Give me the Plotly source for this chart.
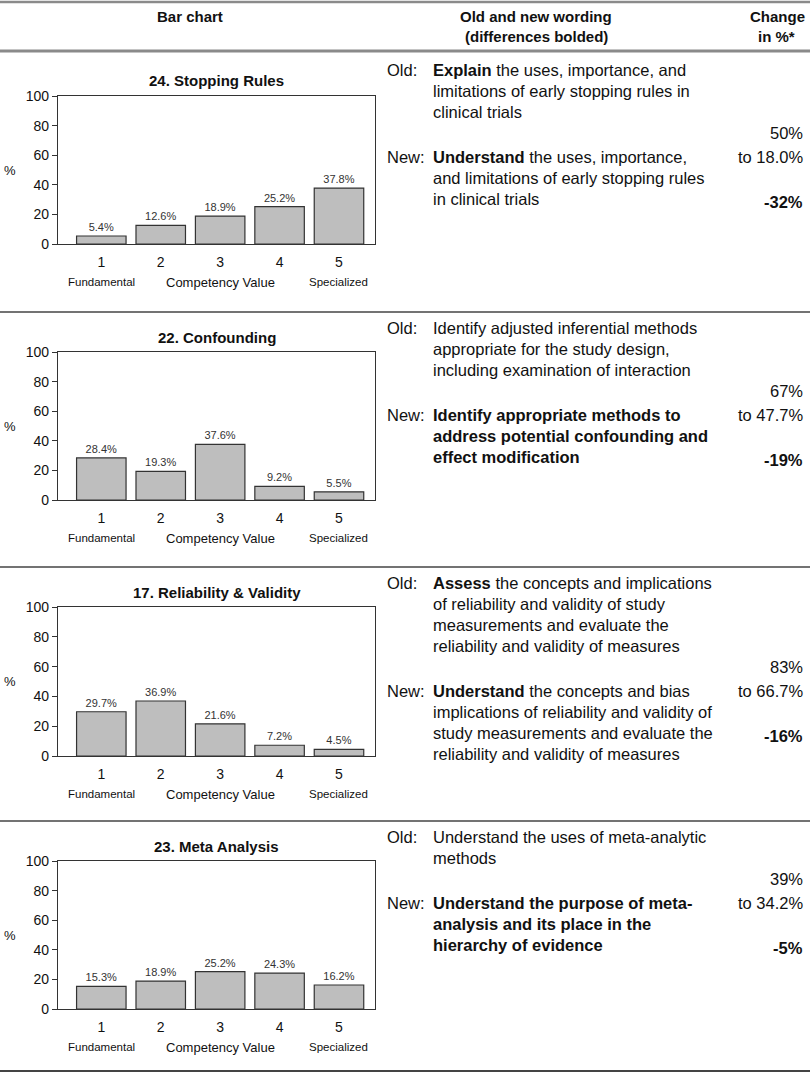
import plotly.graph_objects as go

# ---------------- data ----------------
competency = [1, 2, 3, 4, 5]
titles = ["24. Stopping Rules", "22. Confounding", "17. Reliability & Validity", "23. Meta Analysis"]
stopping_rules = [5.4, 12.6, 18.9, 25.2, 37.8]
confounding = [28.4, 19.3, 37.6, 9.2, 5.5]
reliability_validity = [29.7, 36.9, 21.6, 7.2, 4.5]
meta_analysis = [15.3, 18.9, 25.2, 24.3, 16.2]
series = [stopping_rules, confounding, reliability_validity, meta_analysis]
y_ticks = [0, 20, 40, 60, 80, 100]

old_wording = [
    ["<b>Explain</b> the uses, importance, and", "limitations of early stopping rules in", "clinical trials"],
    ["Identify adjusted inferential methods", "appropriate for the study design,", "including examination of interaction"],
    ["<b>Assess</b> the concepts and implications", "of reliability and validity of study",
     "measurements and evaluate the", "reliability and validity of measures"],
    ["Understand the uses of meta-analytic", "methods"],
]
new_wording = [
    ["<b>Understand</b> the uses, importance,", "and limitations of early stopping rules", "in clinical trials"],
    ["<b>Identify appropriate methods to</b>", "<b>address potential confounding and</b>", "<b>effect modification</b>"],
    ["<b>Understand</b> the concepts and bias", "implications of reliability and validity of",
     "study measurements and evaluate the", "reliability and validity of measures"],
    ["<b>Understand the purpose of meta-</b>", "<b>analysis and its place in the</b>", "<b>hierarchy of evidence</b>"],
]
old_pct = ["50%", "67%", "83%", "39%"]
new_pct = ["to 18.0%", "to 47.7%", "to 66.7%", "to 34.2%"]
change = ["-32%", "-19%", "-16%", "-5%"]

# ---------------- layout constants ----------------
W, H = 810, 1073
FONT = "Liberation Sans, Arial, Helvetica, sans-serif"
box_left, box_right = 58, 375
x_range = [0.271, 5.606]
panel_y100 = [96, 352, 607, 861]
panel_y0 = [244, 500, 756, 1009]
text_top = [70, 328, 583, 837]
line_h = 21


def py(p):
    return 1 - p / H


def px(p):
    return p / W


fig = go.Figure()
annotations = []
layout_axes = {}

for i, vals in enumerate(series):
    n = i + 1
    xa = "x" if n == 1 else f"x{n}"
    ya = "y" if n == 1 else f"y{n}"
    fig.add_trace(go.Bar(
        x=competency, y=vals, xaxis=xa, yaxis=ya, width=0.833,
        marker=dict(color="#bebebe", line=dict(color="#333333", width=1.2)),
        texttemplate="%{y:.1f}%", textposition="outside", constraintext="none",
        textfont=dict(size=11, color="#333333", family=FONT), cliponaxis=False,
        hoverinfo="skip",
    ))
    layout_axes[f"xaxis{'' if n == 1 else n}"] = dict(
        domain=[px(box_left), px(box_right)], range=x_range, anchor=ya, automargin=False,
        tickvals=competency, ticktext=[str(c) for c in competency],
        ticks="outside", ticklen=5, tickcolor="rgba(0,0,0,0)",
        tickfont=dict(size=14, color="#111111", family=FONT),
        showline=True, mirror=True, linecolor="#333333", linewidth=1.3,
        showgrid=False, zeroline=False, fixedrange=True,
    )
    layout_axes[f"yaxis{'' if n == 1 else n}"] = dict(
        domain=[py(panel_y0[i]), py(panel_y100[i])], range=[0, 100], anchor=xa, automargin=False,
        tickvals=y_ticks, ticks="outside", ticklen=5, tickcolor="#333333",
        tickfont=dict(size=14, color="#111111", family=FONT),
        showline=True, mirror=True, linecolor="#333333", linewidth=1.3,
        showgrid=False, zeroline=False, fixedrange=True,
    )
    # chart title
    annotations.append(dict(text=f"<b>{titles[i]}</b>", x=px((box_left + box_right) / 2), y=py(panel_y100[i] - 15),
                            xref="paper", yref="paper", showarrow=False, xanchor="center", yanchor="middle",
                            font=dict(size=15, family=FONT, color="#111111")))
    # % label
    annotations.append(dict(text="%", x=px(10), y=py((panel_y0[i] + panel_y100[i]) / 2),
                            xref="paper", yref="paper", showarrow=False, xanchor="center", yanchor="middle",
                            font=dict(size=13, family=FONT, color="#111111")))
    # x sub labels
    for xv, lab, sz in [(1, "Fundamental", 11.5), (3, "Competency Value", 13), (5, "Specialized", 11.5)]:
        annotations.append(dict(text=lab, x=xv, xref=xa, y=py(panel_y0[i] + 38), yref="paper",
                                showarrow=False, xanchor="center", yanchor="middle",
                                font=dict(size=sz, family=FONT, color="#111111")))
    # wording column
    y = text_top[i]
    annotations.append(dict(text="Old:", x=px(385), y=py(y), xref="paper", yref="paper", showarrow=False,
                            xanchor="left", yanchor="middle", font=dict(size=16.5, family=FONT, color="#111111")))
    for j, line in enumerate(old_wording[i]):
        annotations.append(dict(text=line, x=px(431), y=py(y + j * line_h), xref="paper", yref="paper",
                                showarrow=False, xanchor="left", yanchor="middle",
                                font=dict(size=16.5, family=FONT, color="#111111")))
    y_pct = y + len(old_wording[i]) * line_h
    annotations.append(dict(text=old_pct[i], x=px(805), y=py(y_pct), xref="paper", yref="paper", showarrow=False,
                            xanchor="right", yanchor="middle", font=dict(size=16.5, family=FONT, color="#111111")))
    y_new = y_pct + 24
    annotations.append(dict(text="New:", x=px(385), y=py(y_new), xref="paper", yref="paper", showarrow=False,
                            xanchor="left", yanchor="middle", font=dict(size=16.5, family=FONT, color="#111111")))
    for j, line in enumerate(new_wording[i]):
        annotations.append(dict(text=line, x=px(431), y=py(y_new + j * line_h), xref="paper", yref="paper",
                                showarrow=False, xanchor="left", yanchor="middle",
                                font=dict(size=16.5, family=FONT, color="#111111")))
    annotations.append(dict(text=new_pct[i], x=px(805), y=py(y_new), xref="paper", yref="paper", showarrow=False,
                            xanchor="right", yanchor="middle", font=dict(size=16.5, family=FONT, color="#111111")))
    annotations.append(dict(text=f"<b>{change[i]}</b>", x=px(805), y=py(y_new + 45), xref="paper", yref="paper",
                            showarrow=False, xanchor="right", yanchor="middle",
                            font=dict(size=16.5, family=FONT, color="#111111")))

# header
for txt, xc, yc, anc in [("<b>Bar chart</b>", 190, 16, "center"), ("<b>Old and new wording</b>", 536, 16, "center"),
                         ("<b>(differences bolded)</b>", 536, 36, "center"), ("<b>Change</b>", 807, 16, "right"),
                         ("<b>in %*</b>", 797, 36, "right")]:
    annotations.append(dict(text=txt, x=px(xc), y=py(yc), xref="paper", yref="paper", showarrow=False,
                            xanchor=anc, yanchor="middle", font=dict(size=15, family=FONT, color="#111111")))

shapes = []
for yl, col, wd in [(2, "#8a8a8a", 2.5), (51, "#8a8a8a", 3), (312, "#444444", 1.6), (567, "#444444", 1.6),
                    (821, "#444444", 1.6), (1071, "#444444", 2.2)]:
    shapes.append(dict(type="line", xref="paper", yref="paper", x0=0, x1=1, y0=py(yl), y1=py(yl),
                       line=dict(color=col, width=wd)))

fig.update_layout(
    width=W, height=H, margin=dict(l=0, r=0, t=0, b=0, pad=0, autoexpand=False),
    paper_bgcolor="white", plot_bgcolor="white", showlegend=False,
    annotations=annotations, shapes=shapes, font=dict(family=FONT),
    **layout_axes,
)

fig.write_html(
    "out.html",
    config={"displayModeBar": False, "responsive": False},
    post_script="document.body.style.margin='0';document.body.style.padding='0';document.body.style.overflow='hidden';",
)
